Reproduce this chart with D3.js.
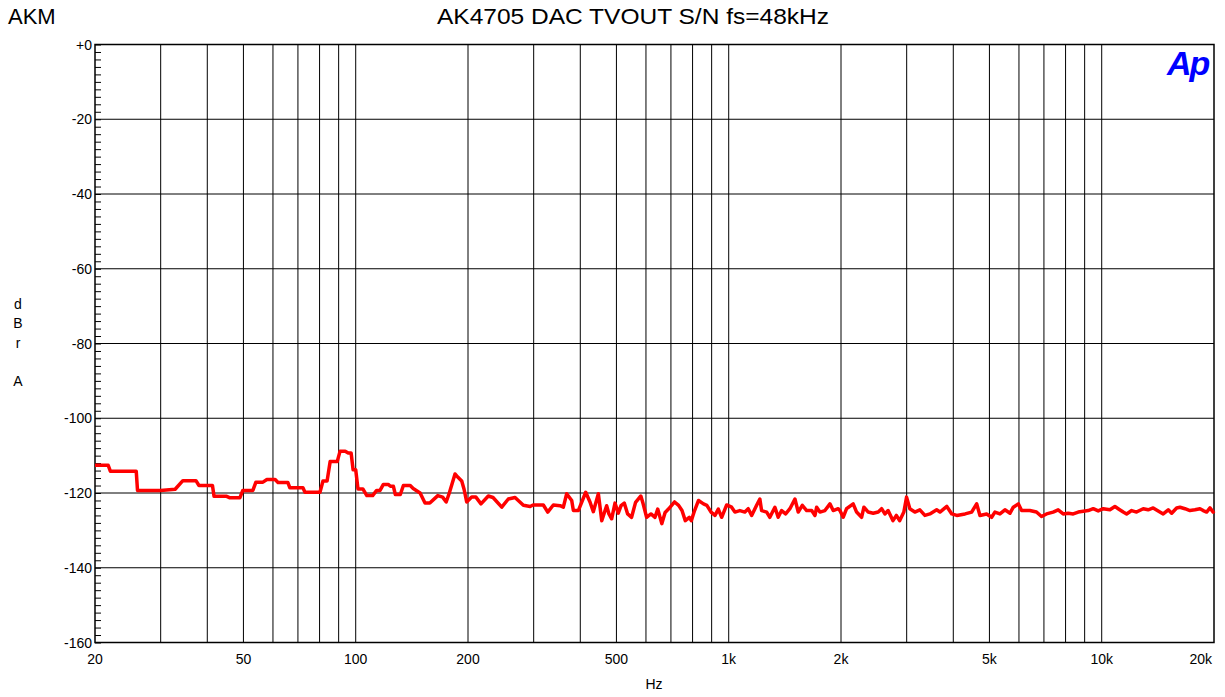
<!DOCTYPE html>
<html>
<head>
<meta charset="utf-8">
<script src="https://cdn.jsdelivr.net/npm/d3@7"></script>
<style>
  body { margin: 0; background: #fff; }
  svg { display: block; font-family: "Liberation Sans", Arial, sans-serif; }
</style>
</head>
<body>
<script>
'use strict';

const freqHz = [
  20, 21.7, 22.0, 25.8, 26.0, 30, 32.8, 34.4, 37.3, 38.0, 41.3, 41.7, 45.1, 46.0, 48.9, 49.8,
  53.0, 54.0, 56.4, 57.8, 60.8, 61.9, 65.8, 66.6, 72.2, 73.1, 80.2, 81.7, 83.8, 85.4, 89.2, 90.8,
  93.7, 95.5, 97.2, 98.4, 100, 101.4, 104.5, 107.1, 111, 113.8, 116.2, 118.6, 122.2, 123.9, 126.2,
  127.7, 131.7, 134.2, 140, 142.6, 148.8, 153.4, 158, 166, 171, 174.8, 178.2, 184.6, 188, 192.4,
  195.2, 198.4,
  204.6, 210, 216.7, 226.7, 233.4, 246.3, 256.5, 267.4, 281.5, 293.5, 298.9, 318.4, 327.2, 338.7,
  353, 360.3, 367.8, 379.4, 383.3, 395.3, 413.6, 424.7, 433.5, 447.2, 456.7, 470.7, 477.4, 485.5,
  495.6, 505.8, 514.4, 524.8, 535.8, 549, 562.7, 581.4, 589.6, 602.4, 618.8, 634.4, 645.2, 661.6,
  675.3, 689.4, 716, 734, 749.5, 764.8, 784, 793.8, 810, 830, 855.7, 873.7, 896.7, 918.8, 937.8,
  957.4, 987.5,
  1018, 1039, 1071, 1105, 1128, 1152, 1188, 1212, 1225, 1264, 1289, 1330, 1357, 1386, 1421, 1459,
  1505, 1536, 1575, 1618, 1669, 1703, 1721, 1756, 1811, 1868, 1906, 1966, 1987, 2027, 2070, 2156,
  2202, 2271, 2304, 2366, 2440, 2517, 2570, 2622, 2675, 2757, 2815, 2872, 2948, 2998, 3059, 3155,
  3254, 3357, 3462, 3610, 3684, 3843, 3963, 4087, 4302, 4481, 4621, 4716, 4914, 5068, 5172, 5335,
  5503, 5677, 5794, 5977, 6099, 6415, 6685, 6896, 7114, 7409, 7642, 7883, 8131, 8387, 8651, 9016,
  9201, 9489, 9786,
  10093, 10520, 10850, 11070, 11420, 11660, 12030, 12400, 12920, 13320, 13740, 14170, 14620, 15080,
  15400, 15880, 16210, 16720, 17240, 17780, 18340, 18710, 19110, 19510, 19900, 20000
];

const levelDb = [
  -112.6, -112.6, -114.2, -114.2, -119.3, -119.3, -119.0, -116.7, -116.7, -118.0, -118.0, -120.9, -120.9, -121.3, -121.3, -119.3,
  -119.3, -117.1, -117.1, -116.4, -116.4, -117.2, -117.2, -118.6, -118.6, -119.8, -119.8, -116.8, -116.8, -111.6, -111.6, -108.8,
  -108.8, -109.3, -109.3, -113.8, -113.8, -118.9, -118.9, -120.7, -120.7, -119.3, -119.3, -117.7, -117.7, -118.2, -118.2,
  -120.4, -120.4, -118.0, -118.0, -118.8, -120.0, -122.7, -122.7, -120.7, -121.1, -122.4, -120.0, -114.9, -115.8, -116.8,
  -119.0, -122.4,
  -121.1, -121.1, -122.9, -120.8, -121.2, -123.8, -121.6, -121.2, -123.3, -123.6, -123.2, -123.2, -125.1, -123.2,
  -123.4, -123.8, -120.2, -122.0, -124.7, -124.7, -119.8, -122.4, -125.0, -120.2, -127.4, -123.4, -125.6, -126.9,
  -122.7, -125.4, -123.4, -122.7, -125.6, -126.5, -122.5, -120.8, -122.9, -126.5, -125.6, -126.5, -124.3, -128.2,
  -125.2, -124.3, -122.4, -123.3, -124.7, -127.4, -126.5, -127.4, -124.7, -122.0, -122.9, -123.3, -125.1, -126.0, -124.3,
  -126.5, -123.2,
  -123.8, -125.1, -124.7, -125.1, -124.2, -126.0, -123.3, -121.6, -124.7, -125.1, -126.5, -123.8, -126.5, -124.7, -125.6, -124.2,
  -121.6, -125.1, -123.3, -124.7, -124.7, -126.0, -123.8, -125.1, -124.7, -122.9, -124.7, -124.2, -124.7, -126.5, -124.2, -122.9,
  -125.1, -126.5, -123.8, -125.1, -125.4, -125.1, -124.2, -125.6, -124.7, -127.4, -126.0, -127.4, -125.1, -121.1, -124.2, -125.1,
  -124.5, -126.0, -125.6, -124.5, -125.1, -123.6, -125.6, -126.0, -125.6, -125.1, -122.9, -126.0, -125.6, -126.5, -125.1, -125.6,
  -124.5, -125.4, -123.8, -122.9, -124.7, -124.7, -125.1, -126.3, -125.6, -125.1, -124.5, -125.6, -125.4, -125.6, -125.1, -124.8,
  -124.7, -124.2, -124.8,
  -124.2, -124.5, -123.6, -124.2, -125.1, -125.6, -124.7, -125.1, -124.2, -124.5, -124.0, -124.8, -125.6, -124.5,
  -125.4, -124.0, -123.8, -124.2, -124.7, -124.5, -124.2, -124.7, -125.1, -124.0, -125.1, -124.8
];

// axis ticks and labels
const yTicks = [0, -20, -40, -60, -80, -100, -120, -140, -160];
const yTickLabels = ["+0", "-20", "-40", "-60", "-80", "-100", "-120", "-140", "-160"];
const xTicks = [20, 50, 100, 200, 500, 1000, 2000, 5000, 10000, 20000];
const xTickLabels = ["20", "50", "100", "200", "500", "1k", "2k", "5k", "10k", "20k"];
const xGrid = [30, 40, 50, 60, 70, 80, 90, 100, 200, 300, 400, 500, 600, 700, 800, 900,
  1000, 2000, 3000, 4000, 5000, 6000, 7000, 8000, 9000, 10000];

const titleText = "AK4705 DAC TVOUT S/N fs=48kHz";
const brandText = "AKM";
const xAxisTitle = "Hz";
const yAxisTitle = ["d", "B", "r", "", "A"];

(function() {

  let svgContainer = "";

  window.onload = function() {
    svgContainer = d3.select('body')
      .append('svg')
      .attr('width', 1225)
      .attr('height', 697);

    let map = drawAxes();
    plotData(map);
    makeLabels();
  }

  // grid, frame, ticks and tick labels
  function drawAxes() {
    let xScale = d3.scaleLog()
      .domain([20, 20000])
      .range([95, 1214]);

    let yScale = d3.scaleLinear()
      .domain([-160, 0])
      .range([642.5, 44.5]);

    // vertical grid lines
    svgContainer.append('g')
      .selectAll('line')
      .data(xGrid)
      .enter()
      .append('line')
        .attr('x1', (d) => xScale(d))
        .attr('x2', (d) => xScale(d))
        .attr('y1', yScale(0))
        .attr('y2', yScale(-160))
        .attr('stroke', '#000')
        .attr('stroke-width', 1);

    // horizontal grid lines
    svgContainer.append('g')
      .selectAll('line')
      .data(yTicks)
      .enter()
      .append('line')
        .attr('x1', xScale(20))
        .attr('x2', xScale(20000))
        .attr('y1', (d) => yScale(d))
        .attr('y2', (d) => yScale(d))
        .attr('stroke', '#000')
        .attr('stroke-width', 1);

    // minor ticks every 2 dB on the left edge, pointing in
    let yAxis = d3.axisRight(yScale)
      .tickValues(d3.range(-160, 1, 2))
      .tickSize(6)
      .tickFormat('');
    let yg = svgContainer.append('g')
      .attr('transform', 'translate(' + xScale(20) + ',0)')
      .call(yAxis);
    yg.select('.domain').remove();
    yg.selectAll('line').attr('stroke', '#000');

    // frame
    svgContainer.append('rect')
      .attr('x', xScale(20))
      .attr('y', yScale(0))
      .attr('width', xScale(20000) - xScale(20))
      .attr('height', yScale(-160) - yScale(0))
      .attr('fill', 'none')
      .attr('stroke', '#000')
      .attr('stroke-width', 1.5);

    // y tick labels
    svgContainer.append('g')
      .selectAll('text')
      .data(yTicks)
      .enter()
      .append('text')
        .attr('x', xScale(20) - 3)
        .attr('y', (d) => yScale(d) + 5)
        .attr('text-anchor', 'end')
        .style('font-size', '14px')
        .text((d, i) => yTickLabels[i]);

    // x tick labels (last one is pulled inside the frame)
    svgContainer.append('g')
      .selectAll('text')
      .data(xTicks)
      .enter()
      .append('text')
        .attr('x', (d) => d == 20000 ? xScale(d) - 2 : xScale(d))
        .attr('y', yScale(-160) + 21)
        .attr('text-anchor', (d) => d == 20000 ? 'end' : 'middle')
        .style('font-size', '14px')
        .text((d, i) => xTickLabels[i]);

    return {
      x: (d, i) => xScale(freqHz[i]),
      y: (d) => yScale(d),
      xScale: xScale,
      yScale: yScale
    };
  }

  // red measurement trace
  function plotData(map) {
    let line = d3.line()
      .x(map.x)
      .y(map.y);

    svgContainer.append('path')
      .datum(levelDb)
      .attr('d', line)
      .attr('fill', 'none')
      .attr('stroke', '#ff0000')
      .attr('stroke-width', 3.5)
      .attr('stroke-linejoin', 'round');
  }

  // title, brand, axis titles and logo
  function makeLabels() {
    svgContainer.append('text')
      .attr('x', 8)
      .attr('y', 24)
      .style('font-size', '22px')
      .text(brandText);

    svgContainer.append('text')
      .attr('x', 437)
      .attr('y', 24)
      .attr('textLength', 392)
      .attr('lengthAdjust', 'spacingAndGlyphs')
      .style('font-size', '22px')
      .text(titleText);

    svgContainer.append('text')
      .attr('x', 654)
      .attr('y', 689)
      .attr('text-anchor', 'middle')
      .style('font-size', '14px')
      .text(xAxisTitle);

    svgContainer.append('g')
      .selectAll('text')
      .data(yAxisTitle)
      .enter()
      .append('text')
        .attr('x', 18)
        .attr('y', (d, i) => 309 + i * 19.3)
        .attr('text-anchor', 'middle')
        .style('font-size', '14px')
        .text((d) => d);

    // analyzer logo
    svgContainer.append('text')
      .attr('x', 1167)
      .attr('y', 75)
      .style('font-size', '34px')
      .style('font-weight', 'bold')
      .style('font-style', 'italic')
      .style('letter-spacing', '-2px')
      .attr('fill', '#0000ff')
      .text('Ap');
  }

})();
</script>
</body>
</html>
